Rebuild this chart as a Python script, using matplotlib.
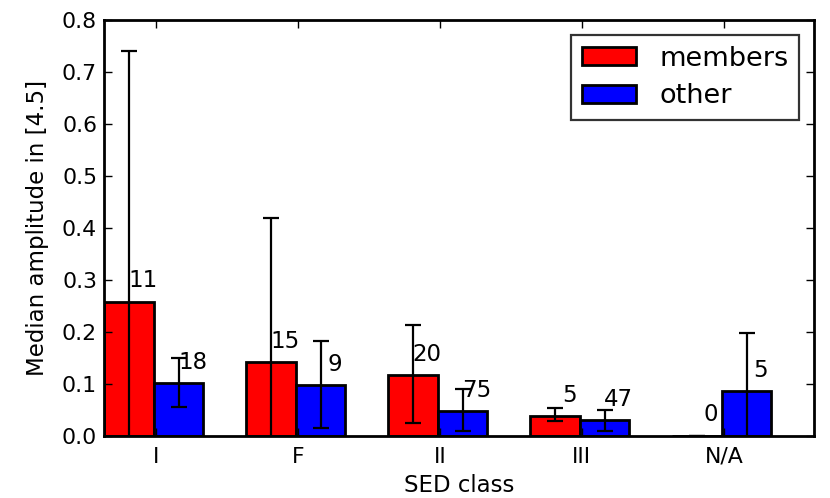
import matplotlib
matplotlib.use("Agg")
import matplotlib.pyplot as plt
import numpy as np

categories = ["I", "F", "II", "III", "N/A"]
members = [0.258, 0.142, 0.117, 0.038, 0.0]
members_low = [-0.1, -0.05, 0.025, 0.027, 0.0]
members_high = [0.740, 0.419, 0.212, 0.052, 0.0]
members_n = [11, 15, 20, 5, 0]
other = [0.102, 0.098, 0.048, 0.029, 0.085]
other_low = [0.054, 0.015, 0.008, 0.008, -0.03]
other_high = [0.150, 0.181, 0.090, 0.050, 0.198]
other_n = [18, 9, 75, 47, 5]

plt.rcParams['font.family'] = ['DejaVu Sans']

fig = plt.figure(figsize=(8.3, 4.98), dpi=100)
ax = fig.add_axes([104/830, 1-435.5/498, 710/830, 415.5/498])

ind = np.arange(len(categories))
width = 0.35
m = np.array(members); o = np.array(other)
m_err = [m - np.array(members_low), np.array(members_high) - m]
o_err = [o - np.array(other_low), np.array(other_high) - o]

ekw = dict(ecolor='black', elinewidth=1.6, capsize=5.6, capthick=1.6)
ax.bar(ind - width/2, m, width, color='red', edgecolor='black', linewidth=2,
       yerr=m_err, error_kw=ekw, label='members')
ax.bar(ind + width/2, o, width, color='blue', edgecolor='black', linewidth=2,
       yerr=o_err, error_kw=ekw, label='other')

off = 0.027
for i in range(len(categories)):
    ax.text(ind[i] - width/2 + 0.1, m[i] + off, str(members_n[i]), ha='center',
            va='baseline', fontsize=16.5)
    ax.text(ind[i] + width/2 + 0.1, o[i] + off, str(other_n[i]), ha='center',
            va='baseline', fontsize=16.5)

ax.set_xlim(-0.35, 4.65)
ax.set_ylim(0, 0.8)
ax.set_xticks(ind + 0.015)
ax.set_xticklabels(categories)
ax.set_yticks(np.arange(0, 0.81, 0.1))
ax.set_yticklabels([f"{v:.1f}" for v in np.arange(0, 0.81, 0.1)])
ax.tick_params(direction='in', top=True, right=True, length=6, width=1,
               labelsize=15.8)
ax.tick_params(axis='x', pad=8)
ax.tick_params(axis='y', pad=5)
for s in ax.spines.values():
    s.set_linewidth(2)

ax.set_xlabel("SED class", fontsize=16.5, labelpad=5.5)
ax.set_ylabel("Median amplitude in [4.5]", fontsize=16.5, labelpad=9)

leg = ax.legend(loc='upper right', fontsize=19.5, fancybox=False,
                handlelength=2.0, handleheight=0.65, handletextpad=0.85,
                labelspacing=0.42, borderaxespad=0.55, borderpad=0.4)
leg.get_frame().set_edgecolor('black')
leg.get_frame().set_linewidth(1.6)

fig.savefig("out.png", dpi=100)
